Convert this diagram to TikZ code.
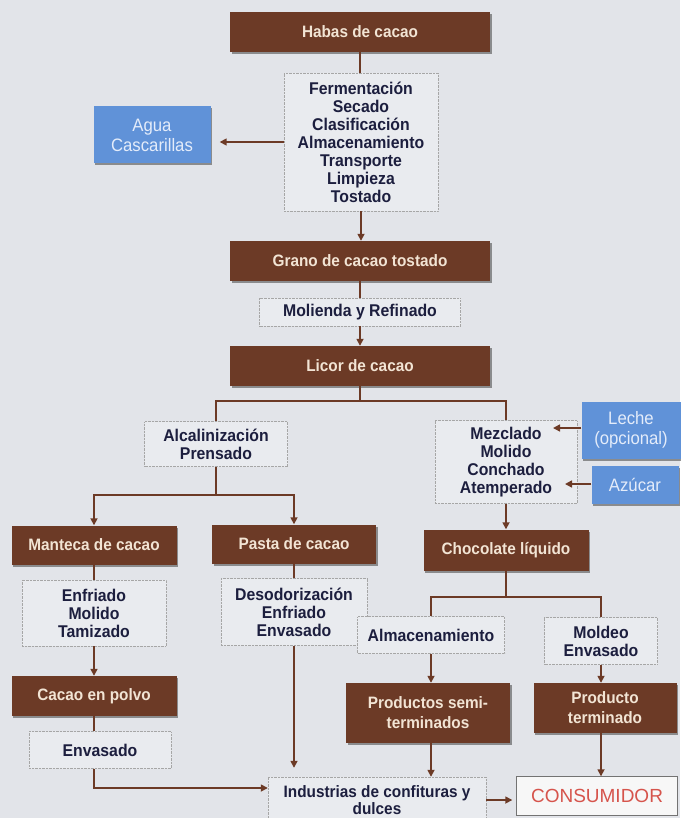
\documentclass[tikz,border=0pt]{standalone}
\usepackage{fontspec}
\setmainfont{Liberation Sans}[FakeStretch=0.93]
\newfontfamily\consfont{Liberation Sans}
\usetikzlibrary{arrows.meta,shadows}
\definecolor{cocoa}{RGB}{108,58,38}
\definecolor{cream}{RGB}{242,228,212}
\definecolor{skyblock}{RGB}{96,146,216}
\definecolor{skytext}{RGB}{228,236,250}
\definecolor{inkblue}{RGB}{28,30,62}
\definecolor{paper}{RGB}{226,228,233}
\definecolor{procfill}{RGB}{233,235,239}
\definecolor{consred}{RGB}{214,84,76}
\begin{document}
\begin{tikzpicture}[x=1pt,y=-1pt,
  product/.style={fill=cocoa, text=cream, inner sep=0pt, align=center,
    font=\bfseries\fontsize{16.5}{20}\selectfont,
    drop shadow={shadow xshift=1.5pt, shadow yshift=-2pt, fill=black!60, opacity=0.7}},
  input/.style={fill=skyblock, text=skytext, inner sep=0pt, align=center,
    font=\fontsize{18}{20}\selectfont,
    drop shadow={shadow xshift=1.5pt, shadow yshift=-2pt, fill=black!60, opacity=0.7}},
  process/.style={draw=black!35, densely dotted, fill=procfill, text=inkblue,
    inner sep=0pt, align=center, font=\bfseries\fontsize{17}{18}\selectfont},
  link/.style={draw=cocoa, line width=1.6pt},
  flow/.style={link, -{Triangle[length=7pt,width=7pt]}}]
\useasboundingbox (0,0) rectangle (680,818);
\fill[paper] (0,0) rectangle (680,818);

% Main line
\node[product, minimum width=260pt, minimum height=40pt] (habas) at (360,32) {Habas de cacao};
\node[process, minimum width=154pt, minimum height=138pt] (prep) at (361,142) {Fermentación\\Secado\\Clasificación\\Almacenamiento\\Transporte\\Limpieza\\Tostado};
\node[input, minimum width=117pt, minimum height=57pt] (agua) at (152,135) {Agua\\Cascarillas};
\node[product, minimum width=260pt, minimum height=40pt] (grano) at (360,261) {Grano de cacao tostado};
\node[process, minimum width=201pt, minimum height=28pt] (molienda) at (360,312) {Molienda y Refinado};
\node[product, minimum width=260pt, minimum height=40pt] (licor) at (360,366) {Licor de cacao};

% Left branch
\node[process, minimum width=143pt, minimum height=45pt] (alcal) at (216,444) {Alcalinización\\Prensado};
\node[product, minimum width=165pt, minimum height=39pt] (manteca) at (94,545) {Manteca de cacao};
\node[product, minimum width=164pt, minimum height=39pt] (pasta) at (294,544) {Pasta de cacao};
\node[process, minimum width=144pt, minimum height=66pt] (enfriado) at (94,613) {Enfriado\\Molido\\Tamizado};
\node[product, minimum width=165pt, minimum height=40pt] (polvo) at (94,696) {Cacao en polvo};
\node[process, minimum width=142pt, minimum height=37pt] (envasado) at (100,750) {Envasado};
\node[process, minimum width=146pt, minimum height=67pt] (desodor) at (294,612) {Desodorización\\Enfriado\\Envasado};

% Right branch
\node[process, minimum width=142pt, minimum height=83pt] (mezclado) at (506,462) {Mezclado\\Molido\\Conchado\\Atemperado};
\node[input, minimum width=99pt, minimum height=57pt] (leche) at (631,430) {Leche\\(opcional)};
\node[input, minimum width=87pt, minimum height=38pt] (azucar) at (635,485) {Azúcar};
\node[product, minimum width=165pt, minimum height=41pt] (chocolate) at (506,550) {Chocolate líquido};
\node[process, minimum width=147pt, minimum height=37pt] (almacen) at (431,635) {Almacenamiento};
\node[process, minimum width=113pt, minimum height=47pt] (moldeo) at (601,641) {Moldeo\\Envasado};
\node[product, minimum width=164pt, minimum height=60pt] (semi) at (428,713) {Productos semi-\\terminados};
\node[product, minimum width=143pt, minimum height=50pt] (terminado) at (605,708) {Producto\\terminado};

% End of the chain
\node[process, minimum width=218pt, minimum height=46pt, font=\bfseries\fontsize{16.5}{13}\selectfont] (industrias) at (377,800) {Industrias de confituras y\\dulces};
\node[draw=black!55, fill=black!3, text=consred, minimum width=161pt, minimum height=39pt,
  font=\consfont\fontsize{19}{19}\selectfont] (consumidor) at (597,796) {CONSUMIDOR};

% Connectors
\coordinate (lecheIn) at (553,428);
\coordinate (azucarIn) at (565,484);
\coordinate (split1) at (360,401);
\coordinate (split2) at (216,495);
\coordinate (split3) at (506,597);

\draw[link] (habas.south) -- (habas.south |- prep.north);
\draw[flow, shorten >=9pt] (prep.west) -- (prep.west -| agua.east);
\draw[flow] (prep.south) -- (prep.south |- grano.north);
\draw[link] (grano.south) -- (molienda.north);
\draw[flow] (molienda.south) -- (licor.north);
\draw[link] (licor.south) -- (split1);
\draw[link] (split1) -| (alcal.north);
\draw[link] (split1) -| (mezclado.north);

\draw[link] (alcal.south) -- (split2);
\draw[flow] (split2) -| (manteca.north);
\draw[flow] (split2) -| (pasta.north);
\draw[link] (manteca.south) -- (enfriado.north);
\draw[flow] (enfriado.south) -- (polvo.north);
\draw[link] (polvo.south) -- (polvo.south |- envasado.north);
\draw[flow] (envasado.south -| polvo.south) |- ([yshift=12pt]industrias.west);
\draw[link] (pasta.south) -- (desodor.north);
\draw[flow, shorten >=9pt] (desodor.south) -- (desodor.south |- industrias.north);

\draw[flow] (leche.west |- lecheIn) -- (lecheIn);
\draw[flow] (azucar.west |- azucarIn) -- (azucarIn);
\draw[flow] (mezclado.south) -- (chocolate.north);
\draw[link] (chocolate.south) -- (split3);
\draw[link] (split3) -| (almacen.north);
\draw[link] (split3) -| (moldeo.north);
\draw[flow] (almacen.south) -- (almacen.south |- semi.north);
\draw[flow] (moldeo.south) -- (moldeo.south |- terminado.north);
\draw[flow] (semi.south -| almacen.south) -- (almacen.south |- industrias.north);
\draw[flow] (terminado.south -| moldeo.south) -- (moldeo.south |- consumidor.north);
\draw[flow, shorten >=4pt] (industrias.east) -- (industrias.east -| consumidor.west);

\end{tikzpicture}
\end{document}
